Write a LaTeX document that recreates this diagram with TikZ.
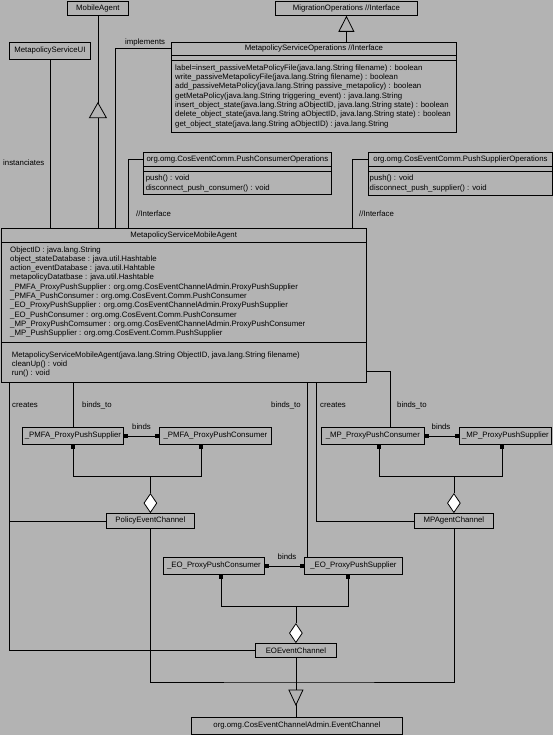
\documentclass[tikz,border=0pt]{standalone}
\usepackage{fontspec}
\setmainfont{Liberation Sans}
\usetikzlibrary{calc,shapes.geometric,arrows.meta}
\definecolor{bg}{RGB}{179,179,179}
\newcommand\umlfont{\fontsize{7.8}{9.3}\selectfont}
\begin{document}
\begin{tikzpicture}[x=1pt,y=-1pt,
  box/.style={draw, fill=bg, line width=0.8pt, inner sep=0, anchor=north west, font=\umlfont},
  txt/.style={font=\umlfont, inner sep=0, anchor=west, text height=5.6pt, text depth=1.6pt},
  wire/.style={line width=0.8pt},
  sq/.style={fill=black, draw=none, minimum size=4pt, inner sep=0},
  dia/.style={diamond, draw, fill=white, line width=0.8pt, minimum width=13pt, minimum height=19pt, inner sep=0, anchor=south},
  tri/.style={draw, fill=bg, line width=0.8pt, line join=miter}
]
\fill[bg] (0,0) rectangle (553,735);
\useasboundingbox (0,0) rectangle (553,735);

% ---------- classes ----------
\node[box, minimum width=61pt, minimum height=14pt] (mobile) at (67,1) {MobileAgent};
\node[box, minimum width=81pt, minimum height=17pt] (ui) at (9,42) {MetapolicyServiceUI};
\node[box, minimum width=142pt, minimum height=14pt] (migr) at (275,1) {MigrationOperations //Interface};

\node[box, minimum width=285pt, minimum height=13pt] (msoH) at (171,42) {MetapolicyServiceOperations //Interface};
\node[box, minimum width=285pt, minimum height=5pt] (msoA) at (171,55) {};
\node[box, minimum width=285pt, minimum height=72pt] (msoO) at (171,60) {};
\foreach \t [count=\i from 0] in {
  label=insert\_passiveMetaPolicyFile(java.lang.String filename) : boolean,
  write\_passiveMetapolicyFile(java.lang.String filename) : boolean,
  add\_passiveMetaPolicy(java.lang.String passive\_metapolicy) : boolean,
  getMetaPolicy(java.lang.String triggering\_event) : java.lang.String,
  {insert\_object\_state(java.lang.String aObjectID, java.lang.String state) : boolean},
  {delete\_object\_state(java.lang.String aObjectID, java.lang.String state) : boolean},
  get\_object\_state(java.lang.String aObjectID) : java.lang.String}
  \node[txt] (msoL\i) at (175,{68.3+9.33*\i}) {\t};

\node[box, minimum width=188pt, minimum height=14pt] (pcoH) at (143,152) {org.omg.CosEventComm.PushConsumerOperations};
\node[box, minimum width=188pt, minimum height=5pt] (pcoA) at (143,166) {};
\node[box, minimum width=188pt, minimum height=23.5pt] (pcoO) at (143,171) {};
\node[txt] (pcoL0) at (145.7,179) {push() : void};
\node[txt] (pcoL1) at (145.7,188.3) {disconnect\_push\_consumer() : void};

\node[box, minimum width=184pt, minimum height=14pt] (psoH) at (368,152) {org.omg.CosEventComm.PushSupplierOperations};
\node[box, minimum width=184pt, minimum height=5pt] (psoA) at (368,166) {};
\node[box, minimum width=184pt, minimum height=24pt] (psoO) at (368,171) {};
\node[txt] (psoL0) at (369.5,179) {push() : void};
\node[txt] (psoL1) at (369.5,188.3) {disconnect\_push\_supplier() : void};

\node[box, minimum width=365.5pt, minimum height=14pt] (agentH) at (0.5,228) {MetapolicyServiceMobileAgent};
\node[box, minimum width=365.5pt, minimum height=100pt] (agentA) at (0.5,242) {};
\node[box, minimum width=365.5pt, minimum height=40pt] (agentO) at (0.5,342) {};
\foreach \t [count=\i from 0] in {
  ObjectID : java.lang.String,
  object\_stateDatabase : java.util.Hashtable,
  action\_eventDatabase : java.util.Hahtable,
  metapolicyDatatbase : java.util.Hashtable,
  \_PMFA\_ProxyPushSupplier : org.omg.CosEventChannelAdmin.ProxyPushSupplier,
  \_PMFA\_PushConsumer : org.omg.CosEvent.Comm.PushConsumer,
  \_EO\_ProxyPushSupplier : org.omg.CosEventChannelAdmin.ProxyPushSupplier,
  \_EO\_PushConsumer : org.omg.CosEvent.Comm.PushConsumer,
  \_MP\_ProxyPushComsumer : org.omg.CosEventChannelAdmin.ProxyPushConsumer,
  \_MP\_PushSupplier : org.omg.CosEvent.Comm.PushSupplier}
  \node[txt] (agL\i) at (10,{250+9.3*\i}) {\t};
\node[txt] (agM0) at (11.7,355) {MetapolicyServiceMobileAgent(java.lang.String ObjectID, java.lang.String filename)};
\node[txt] (agM1) at (11.7,364.3) {cleanUp() : void};
\node[txt] (agM2) at (11.7,373.3) {run() : void};

\node[box, minimum width=101pt, minimum height=17pt] (pmfaS) at (22,427) {\_PMFA\_ProxyPushSupplier};
\node[box, minimum width=112pt, minimum height=17pt] (pmfaC) at (159,427) {\_PMFA\_ProxyPushConsumer};
\node[box, minimum width=103pt, minimum height=17pt] (mpC) at (321,427) {\_MP\_ProxyPushConsumer};
\node[box, minimum width=92pt, minimum height=17pt] (mpS) at (459,427) {\_MP\_ProxyPushSupplier};
\node[box, minimum width=88pt, minimum height=15pt] (polCh) at (106,513) {PolicyEventChannel};
\node[box, minimum width=79pt, minimum height=15pt] (mpCh) at (414,513) {MPAgentChannel};
\node[box, minimum width=101pt, minimum height=17pt] (eoC) at (163,557) {\_EO\_ProxyPushConsumer};
\node[box, minimum width=98pt, minimum height=17pt] (eoS) at (304,557) {\_EO\_ProxyPushSupplier};
\node[box, minimum width=81pt, minimum height=14pt] (eoCh) at (255,643) {EOEventChannel};
\node[box, minimum width=211pt, minimum height=17pt] (evCh) at (191,717) {org.omg.CosEventChannelAdmin.EventChannel};

% ---------- labels ----------
\node[txt] (lImpl) at (125,42.5) {implements};
\node[txt] (lInst) at (3,164) {instanciates};
\node[txt] (lIf1) at (136,214) {//Interface};
\node[txt] (lIf2) at (359,214) {//Interface};
\node[txt] (lCr1) at (12,405) {creates};
\node[txt] (lBt1) at (82,405) {binds\_to};
\node[txt] (lBt2) at (271,405) {binds\_to};
\node[txt] (lCr2) at (320,405) {creates};
\node[txt] (lBt3) at (397,405) {binds\_to};
\node[txt, anchor=center] (lB1) at (141.5,427) {binds};
\node[txt, anchor=center] (lB2) at (441,427) {binds};
\node[txt, anchor=center] (lB3) at (287,557) {binds};

% ---------- upper connectors ----------
\draw[wire] (ui.south) -- (ui.south |- agentH.north);
\draw[wire] (mobile.south) -- (mobile.south |- agentH.north);
\coordinate (t1) at ($(mobile.south)+(0,87)$);
\draw[tri] (t1) -- ++(-8.5,15) -- ++(17,0) -- cycle;
\draw[wire] ($(agentH.north west)+(114.5,0)$) |- (msoH.west);
\draw[wire] ($(agentH.north west)+(127.5,0)$) |- (pcoH.west);
\draw[wire] ($(agentH.north west)+(351.5,0)$) |- (psoH.west);
\draw[wire, {Triangle[open, length=16pt, width=16pt]}-] (migr.south) -- (migr.south |- msoH.north);

% ---------- lower connectors ----------
\coordinate (cr1) at ($(agentO.south west)+(8.5,0)$);
\draw[wire] (cr1) |- (polCh.west);
\draw[wire] (cr1) |- (eoCh.west);
\draw[wire] (pmfaS.north |- agentO.south) -- (pmfaS.north);
\coordinate (bt2) at ($(eoS.north west)+(3,0)$);
\draw[wire] (bt2 |- agentO.south) -- (bt2);
\coordinate (cr2) at ($(agentO.south west)+(315.5,0)$);
\draw[wire] (cr2) |- (mpCh.west);
\coordinate (bt3) at ($(mpC.north west)+(69,0)$);
\draw[wire] ($(agentO.north east)+(0,29)$) -| (bt3);

% PMFA group
\node[sq, anchor=west] (s1) at (pmfaS.east) {};
\node[sq, anchor=east] (s2) at (pmfaC.west) {};
\draw[wire] (s1) -- (s2);
\node[sq, anchor=north] (s3) at (pmfaS.south) {};
\node[sq, anchor=north] (s4) at ($(pmfaC.south west)+(42,0)$) {};
\node[dia] (d1) at (polCh.north) {};
\coordinate (j1) at ($(d1.north)+(0,-17)$);
\draw[wire] (s3) |- (j1) -| (s4);
\draw[wire] (j1) -- (d1);

% MP group
\node[sq, anchor=west] (s5) at (mpC.east) {};
\node[sq, anchor=east] (s6) at (mpS.west) {};
\draw[wire] (s5) -- (s6);
\node[sq, anchor=north] (s7) at ($(mpC.south west)+(58,0)$) {};
\node[sq, anchor=north] (s8) at ($(mpS.south west)+(43,0)$) {};
\node[dia] (d2) at (mpCh.north) {};
\coordinate (j2) at ($(d2.north)+(0,-17)$);
\draw[wire] (s7) |- (j2) -| (s8);
\draw[wire] (j2) -- (d2);

% EO group
\node[sq, anchor=west] (s9) at (eoC.east) {};
\node[sq, anchor=east] (s10) at (eoS.west) {};
\draw[wire] (s9) -- (s10);
\node[sq, anchor=north] (s11) at ($(eoC.south west)+(58,0)$) {};
\node[sq, anchor=north] (s12) at ($(eoS.south west)+(44,0)$) {};
\node[dia] (d3) at (eoCh.north) {};
\coordinate (j3) at ($(d3.north)+(0,-17)$);
\draw[wire] (s11) |- (j3) -| (s12);
\draw[wire] (j3) -- (d3);

% generalization to EventChannel
\coordinate (g) at ($(eoCh.south |- evCh.north)+(0,-35)$);
\draw[wire] (polCh.south) |- (g) -| (mpCh.south);
\draw[wire] (eoCh.south) -- (eoCh.south |- evCh.north);
\coordinate (t2) at ($(eoCh.south |- evCh.north)+(0,-12)$);
\draw[tri] (t2) -- ++(-7,-15) -- ++(14,0) -- cycle;
\end{tikzpicture}
\end{document}
